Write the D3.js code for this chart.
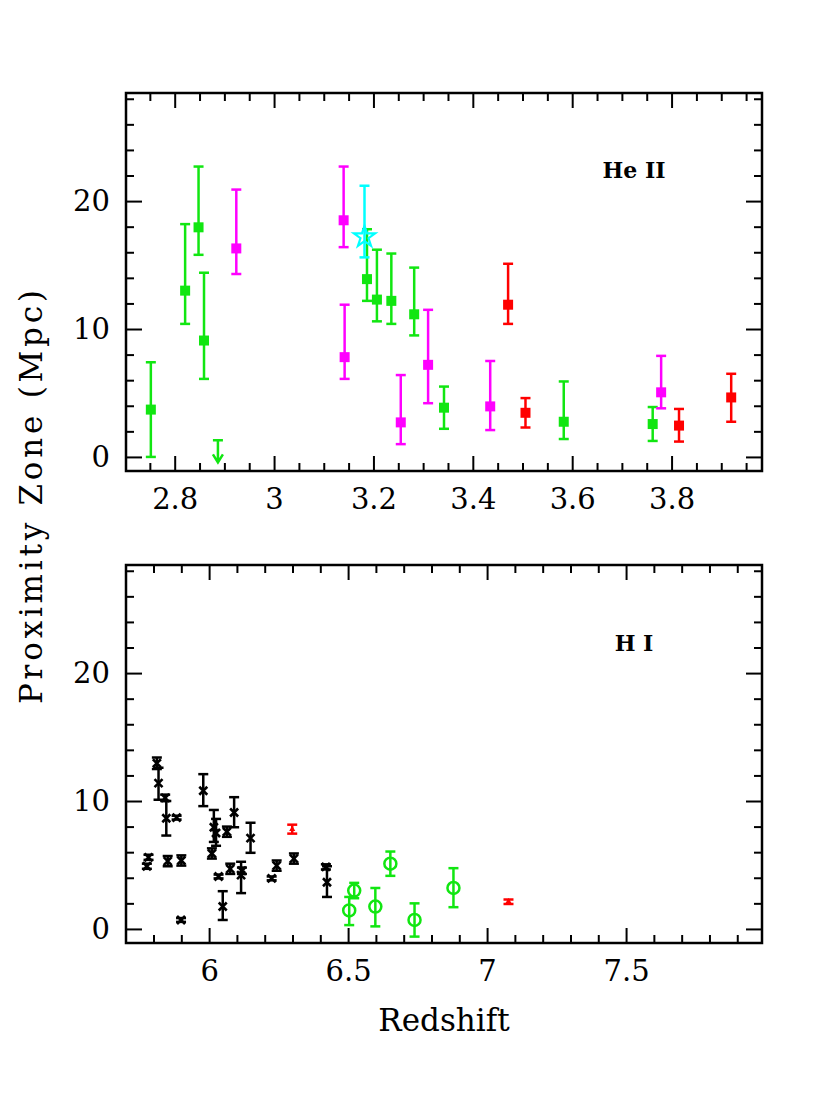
<!DOCTYPE html>
<html>
<head>
<meta charset="utf-8">
<script src="https://cdn.jsdelivr.net/npm/d3@7"></script>
<style>
  body { margin: 0; background: #fff; }
  svg { display: block; background: #fff; }
  .tick line { stroke: #000; stroke-width: 2px; }
  .tick text { font-family: 'DejaVu Serif', serif; font-size: 29px; fill: #000; }
  .label { font-family: 'DejaVu Serif', serif; font-size: 31px; fill: #000; }
  .ion { font-family: 'DejaVu Serif', serif; font-size: 22px; font-weight: bold; fill: #000; }
</style>
</head>
<body>
<svg id="chart" width="830" height="1106"></svg>
<script>
  'use strict';

  /* He II proximity zones: z = redshift, d = size (Mpc), lo/hi = error bar ends */
  var heGreen = [
    {z: 2.752, d: 3.7, lo: 0.0, hi: 7.4},
    {z: 2.821, d: 13.0, lo: 10.4, hi: 18.2},
    {z: 2.848, d: 17.95, lo: 15.8, hi: 22.7},
    {z: 2.859, d: 9.1, lo: 6.1, hi: 14.4},
    {z: 3.187, d: 13.9, lo: 12.2, hi: 17.8},
    {z: 3.207, d: 12.3, lo: 10.6, hi: 16.2},
    {z: 3.236, d: 12.2, lo: 10.4, hi: 15.9},
    {z: 3.282, d: 11.15, lo: 9.5, hi: 14.8},
    {z: 3.342, d: 3.85, lo: 2.2, hi: 5.5},
    {z: 3.583, d: 2.75, lo: 1.4, hi: 5.9},
    {z: 3.762, d: 2.57, lo: 1.25, hi: 3.9}
  ];
  var heGreenLimits = [
    {z: 2.887, d: 1.3}
  ];
  var heMagenta = [
    {z: 2.924, d: 16.3, lo: 14.3, hi: 20.9},
    {z: 3.140, d: 18.5, lo: 16.4, hi: 22.7},
    {z: 3.142, d: 7.8, lo: 6.1, hi: 11.9},
    {z: 3.255, d: 2.7, lo: 1.0, hi: 6.4},
    {z: 3.310, d: 7.2, lo: 4.2, hi: 11.5},
    {z: 3.435, d: 3.95, lo: 2.1, hi: 7.5},
    {z: 3.779, d: 5.05, lo: 3.8, hi: 7.9}
  ];
  var heRed = [
    {z: 3.471, d: 11.9, lo: 10.4, hi: 15.1},
    {z: 3.506, d: 3.45, lo: 2.3, hi: 4.6},
    {z: 3.815, d: 2.45, lo: 1.2, hi: 3.75},
    {z: 3.920, d: 4.65, lo: 2.75, hi: 6.5}
  ];
  var heCyan = [
    {z: 3.182, d: 17.2, lo: 15.6, hi: 21.2}
  ];

  /* H I proximity zones */
  var hiBlack = [
    {z: 5.776, d: 4.9, lo: 4.7, hi: 5.1},
    {z: 5.782, d: 5.6, lo: 5.4, hi: 5.8},
    {z: 5.812, d: 12.95, lo: 12.5, hi: 13.4},
    {z: 5.818, d: 11.4, lo: 10.1, hi: 12.6},
    {z: 5.842, d: 10.25, lo: 10.0, hi: 10.5},
    {z: 5.846, d: 8.65, lo: 7.3, hi: 10.0},
    {z: 5.851, d: 5.3, lo: 4.9, hi: 5.7},
    {z: 5.883, d: 8.7, lo: 8.55, hi: 8.85},
    {z: 5.899, d: 0.7, lo: 0.55, hi: 0.85},
    {z: 5.900, d: 5.35, lo: 4.95, hi: 5.75},
    {z: 5.979, d: 10.8, lo: 9.6, hi: 12.1},
    {z: 6.010, d: 5.9, lo: 5.5, hi: 6.3},
    {z: 6.017, d: 7.95, lo: 6.8, hi: 9.3},
    {z: 6.025, d: 7.5, lo: 6.5, hi: 8.6},
    {z: 6.034, d: 4.1, lo: 3.95, hi: 4.25},
    {z: 6.049, d: 1.75, lo: 0.7, hi: 2.95},
    {z: 6.064, d: 7.6, lo: 7.2, hi: 8.0},
    {z: 6.076, d: 4.7, lo: 4.3, hi: 5.1},
    {z: 6.090, d: 9.1, lo: 7.95, hi: 10.3},
    {z: 6.115, d: 4.2, lo: 2.8, hi: 5.25},
    {z: 6.118, d: 4.55, lo: 4.3, hi: 4.8},
    {z: 6.149, d: 7.1, lo: 5.95, hi: 8.3},
    {z: 6.225, d: 3.95, lo: 3.8, hi: 4.1},
    {z: 6.243, d: 4.95, lo: 4.55, hi: 5.35},
    {z: 6.305, d: 5.5, lo: 5.1, hi: 5.9},
    {z: 6.420, d: 4.85, lo: 4.65, hi: 5.05},
    {z: 6.424, d: 3.65, lo: 2.5, hi: 4.9}
  ];
  var hiGreen = [
    {z: 6.504, d: 1.45, lo: 0.3, hi: 2.5},
    {z: 6.522, d: 3.0, lo: 2.4, hi: 3.6},
    {z: 6.598, d: 1.75, lo: 0.2, hi: 3.2},
    {z: 6.652, d: 5.1, lo: 4.15, hi: 6.05},
    {z: 6.739, d: 0.7, lo: -0.6, hi: 2.0},
    {z: 6.879, d: 3.2, lo: 1.7, hi: 4.75}
  ];
  var hiRed = [
    {z: 6.299, d: 7.8, lo: 7.45, hi: 8.15},
    {z: 7.077, d: 2.15, lo: 1.95, hi: 2.3}
  ];

  /* Axis domains and ticks */
  var heDomain = [2.702, 3.982];
  var hiDomain = [5.701, 7.989];
  var yDomain = [-1.1, 28.45];
  var heMajor = [2.8, 3.0, 3.2, 3.4, 3.6, 3.8];
  var heMinor = [2.75, 2.85, 2.9, 2.95, 3.05, 3.1, 3.15, 3.25, 3.3, 3.35, 3.45,
    3.5, 3.55, 3.65, 3.7, 3.75, 3.85, 3.9, 3.95];
  var hiMajor = [6, 6.5, 7, 7.5];
  var hiMinor = [5.8, 5.9, 6.1, 6.2, 6.3, 6.4, 6.6, 6.7, 6.8, 6.9, 7.1, 7.2, 7.3,
    7.4, 7.6, 7.7, 7.8, 7.9];
  var yMajor = [0, 10, 20];
  var yMinor = [2, 4, 6, 8, 12, 14, 16, 18, 22, 24, 26, 28];

  var GREEN = '#11e611';
  var MAGENTA = '#ff00ff';
  var RED = '#ff0000';
  var CYAN = '#00ffff';

  var svg = d3.select('#chart');
  var left = 126, right = 762;

  function drawPanel(top, bottom, xDomain, xMajor, xMinor) {
    var x = d3.scaleLinear().domain(xDomain).range([left, right]);
    var y = d3.scaleLinear().domain(yDomain).range([bottom, top]);
    var g = svg.append('g');
    var fmt = d3.format('~g');

    /* ticks point inwards on all four sides, labels only bottom and left */
    g.append('g').attr('transform', 'translate(0,' + bottom + ')')
      .call(d3.axisBottom(x).tickValues(xMajor).tickSize(-15).tickPadding(17).tickFormat(fmt));
    g.append('g').attr('transform', 'translate(0,' + bottom + ')')
      .call(d3.axisBottom(x).tickValues(xMinor).tickSize(-8).tickFormat(''));
    g.append('g').attr('transform', 'translate(0,' + top + ')')
      .call(d3.axisTop(x).tickValues(xMajor).tickSize(-15).tickFormat(''));
    g.append('g').attr('transform', 'translate(0,' + top + ')')
      .call(d3.axisTop(x).tickValues(xMinor).tickSize(-8).tickFormat(''));
    g.append('g').attr('transform', 'translate(' + left + ',0)')
      .call(d3.axisLeft(y).tickValues(yMajor).tickSize(-16).tickPadding(16).tickFormat(fmt));
    g.append('g').attr('transform', 'translate(' + left + ',0)')
      .call(d3.axisLeft(y).tickValues(yMinor).tickSize(-8).tickFormat(''));
    g.append('g').attr('transform', 'translate(' + right + ',0)')
      .call(d3.axisRight(y).tickValues(yMajor).tickSize(-16).tickFormat(''));
    g.append('g').attr('transform', 'translate(' + right + ',0)')
      .call(d3.axisRight(y).tickValues(yMinor).tickSize(-8).tickFormat(''));
    g.selectAll('.domain').remove();

    g.append('rect')
      .attr('x', left).attr('y', top)
      .attr('width', right - left).attr('height', bottom - top)
      .attr('fill', 'none').attr('stroke', '#000').attr('stroke-width', 2.5);

    return {g: g, x: x, y: y};
  }

  function errorBars(p, data, color) {
    var cap = 5;
    var sel = p.g.append('g')
      .attr('stroke', color).attr('stroke-width', 2.5).attr('fill', 'none')
      .selectAll('g').data(data).enter().append('g');
    sel.append('line')
      .attr('x1', function(d) { return p.x(d.z); })
      .attr('x2', function(d) { return p.x(d.z); })
      .attr('y1', function(d) { return p.y(d.lo); })
      .attr('y2', function(d) { return p.y(d.hi); });
    ['lo', 'hi'].forEach(function(k) {
      sel.append('line')
        .attr('x1', function(d) { return p.x(d.z) - cap; })
        .attr('x2', function(d) { return p.x(d.z) + cap; })
        .attr('y1', function(d) { return p.y(d[k]); })
        .attr('y2', function(d) { return p.y(d[k]); });
    });
  }

  function squares(p, data, color) {
    var s = 10;
    p.g.append('g').selectAll('rect').data(data).enter().append('rect')
      .attr('x', function(d) { return p.x(d.z) - s / 2; })
      .attr('y', function(d) { return p.y(d.d) - s / 2; })
      .attr('width', s).attr('height', s)
      .attr('fill', color);
  }

  function crosses(p, data, color) {
    var r = 4;
    p.g.append('g').attr('stroke', color).attr('stroke-width', 2.6)
      .selectAll('path').data(data).enter().append('path')
      .attr('d', function(d) {
        var cx = p.x(d.z), cy = p.y(d.d);
        return 'M' + (cx - r) + ',' + (cy - r) + 'L' + (cx + r) + ',' + (cy + r) +
          'M' + (cx - r) + ',' + (cy + r) + 'L' + (cx + r) + ',' + (cy - r);
      });
  }

  function circles(p, data, color) {
    p.g.append('g').selectAll('circle').data(data).enter().append('circle')
      .attr('cx', function(d) { return p.x(d.z); })
      .attr('cy', function(d) { return p.y(d.d); })
      .attr('r', 6)
      .attr('fill', 'none').attr('stroke', color).attr('stroke-width', 2.5);
  }

  function triangles(p, data, color) {
    p.g.append('g').selectAll('path').data(data).enter().append('path')
      .attr('transform', function(d) { return 'translate(' + p.x(d.z) + ',' + p.y(d.d) + ')'; })
      .attr('d', d3.symbol().type(d3.symbolTriangle).size(16))
      .attr('fill', color);
  }

  function stars(p, data, color) {
    p.g.append('g').selectAll('path').data(data).enter().append('path')
      .attr('transform', function(d) { return 'translate(' + p.x(d.z) + ',' + p.y(d.d) + ')'; })
      .attr('d', d3.symbol().type(d3.symbolStar).size(140))
      .attr('fill', 'none').attr('stroke', color).attr('stroke-width', 2.2);
  }

  function upperLimits(p, data, color) {
    p.g.append('g')
      .attr('stroke', color).attr('stroke-width', 2.5).attr('fill', 'none')
      .selectAll('path').data(data).enter().append('path')
      .attr('d', function(d) {
        var cx = p.x(d.z), cy = p.y(d.d), tip = cy + 22;
        return 'M' + (cx - 5) + ',' + cy + 'L' + (cx + 5) + ',' + cy +
          'M' + cx + ',' + cy + 'L' + cx + ',' + tip +
          'M' + (cx - 5) + ',' + (tip - 8) + 'L' + cx + ',' + tip + 'L' + (cx + 5) + ',' + (tip - 8);
      });
  }

  /* We draw the He II panel */
  var he = drawPanel(93, 471, heDomain, heMajor, heMinor);
  errorBars(he, heGreen, GREEN);
  squares(he, heGreen, GREEN);
  upperLimits(he, heGreenLimits, GREEN);
  errorBars(he, heMagenta, MAGENTA);
  squares(he, heMagenta, MAGENTA);
  errorBars(he, heRed, RED);
  squares(he, heRed, RED);
  errorBars(he, heCyan, CYAN);
  stars(he, heCyan, CYAN);
  he.g.append('text').attr('class', 'ion')
    .attr('x', 634).attr('y', 178).attr('text-anchor', 'middle')
    .text('He  II');

  /* We draw the H I panel */
  var hi = drawPanel(565, 943, hiDomain, hiMajor, hiMinor);
  errorBars(hi, hiBlack, '#000');
  crosses(hi, hiBlack, '#000');
  errorBars(hi, hiGreen, GREEN);
  circles(hi, hiGreen, GREEN);
  errorBars(hi, hiRed, RED);
  triangles(hi, hiRed, RED);
  hi.g.append('text').attr('class', 'ion')
    .attr('x', 634).attr('y', 651).attr('text-anchor', 'middle')
    .text('H  I');

  /* Axis titles */
  svg.append('text').attr('class', 'label')
    .attr('x', 444).attr('y', 1031).attr('text-anchor', 'middle')
    .text('Redshift');
  svg.append('text').attr('class', 'label')
    .attr('transform', 'translate(42,497) rotate(-90)')
    .attr('text-anchor', 'middle')
    .attr('textLength', 414).attr('lengthAdjust', 'spacing')
    .text('Proximity  Zone  (Mpc)');
</script>
</body>
</html>
